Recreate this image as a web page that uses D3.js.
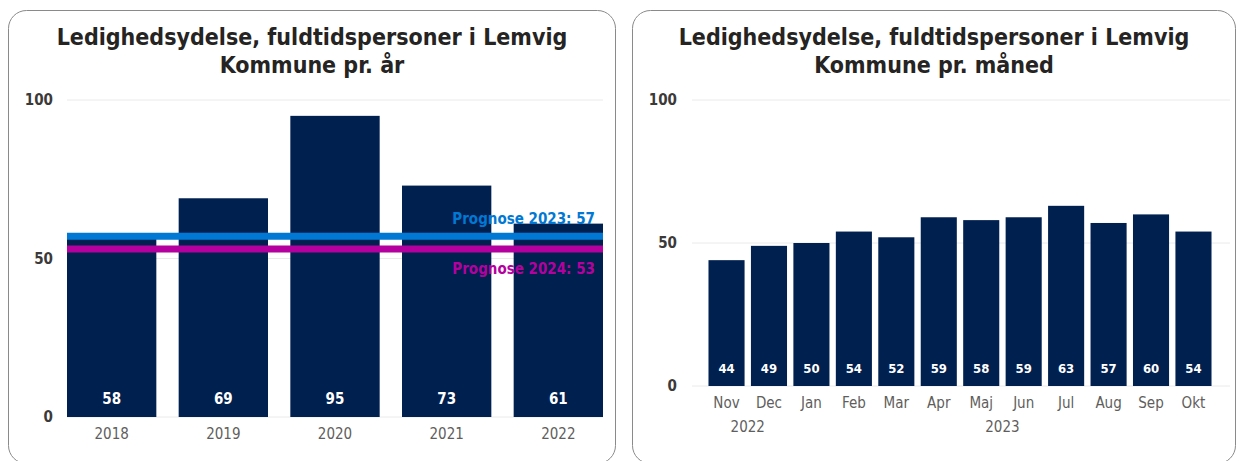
<!DOCTYPE html>
<html>
<head>
<meta charset="utf-8">
<script src="https://cdn.jsdelivr.net/npm/d3@7"></script>
<style>
  body { margin: 0; background: #fff; }
  text { font-family: "DejaVu Sans Condensed", "DejaVu Sans", sans-serif; }
</style>
</head>
<body>
<svg id="chart" width="1240" height="461"></svg>
<script>
// yearly chart
const years = ["2018", "2019", "2020", "2021", "2022"];
const yearValues = [58, 69, 95, 73, 61];
const prognoseNames = ["Prognose 2023", "Prognose 2024"];
const prognoseValues = [57, 53];

// monthly chart
const months = ["Nov", "Dec", "Jan", "Feb", "Mar", "Apr", "Maj", "Jun", "Jul", "Aug", "Sep", "Okt"];
const monthYears = ["2022", "2022", "2023", "2023", "2023", "2023", "2023", "2023", "2023", "2023", "2023", "2023"];
const monthValues = [44, 49, 50, 54, 52, 59, 58, 59, 63, 57, 60, 54];

const yTicks = [0, 50, 100];

const svg = d3.select("#chart");
const barColor = "#002050";

function panel(x, w, lines) {
  svg.append("rect")
    .attr("x", x).attr("y", 10.5)
    .attr("width", w).attr("height", 453)
    .attr("rx", 18)
    .attr("fill", "#fff")
    .attr("stroke", "#8a8a8a");
  const t = svg.append("text")
    .attr("x", x + w / 2)
    .attr("text-anchor", "middle")
    .attr("fill", "#252423")
    .style("font-size", "23px")
    .style("font-weight", "bold");
  lines.forEach((l, i) => {
    t.append("tspan").attr("x", x + w / 2).attr("y", 45 + i * 28).text(l);
  });
}

function yAxis(y, x0, x1, labelX) {
  svg.append("g").selectAll("line")
    .data(yTicks)
    .join("line")
    .attr("x1", x0).attr("x2", x1)
    .attr("y1", d => y(d)).attr("y2", d => y(d))
    .attr("stroke", "#eaeaea");
  svg.append("g").selectAll("text")
    .data(yTicks)
    .join("text")
    .attr("x", labelX)
    .attr("y", d => y(d))
    .attr("dy", "0.35em")
    .attr("text-anchor", "end")
    .attr("fill", "#3b3a39")
    .style("font-size", "15px")
    .style("font-weight", "bold")
    .text(d => d);
}

// ---- left chart ----
panel(8.5, 607, ["Ledighedsydelse, fuldtidspersoner i Lemvig", "Kommune pr. år"]);

const x1 = d3.scaleBand().domain(years).range([67, 603]).paddingInner(0.2).paddingOuter(0);
const y1 = d3.scaleLinear().domain([0, 100]).range([417, 100]);

yAxis(y1, 67, 603, 53);

svg.append("g").selectAll("rect")
  .data(years)
  .join("rect")
  .attr("x", d => x1(d))
  .attr("y", (d, i) => y1(yearValues[i]))
  .attr("width", x1.bandwidth())
  .attr("height", (d, i) => y1(0) - y1(yearValues[i]))
  .attr("fill", barColor);

svg.append("g").selectAll("text")
  .data(years)
  .join("text")
  .attr("x", d => x1(d) + x1.bandwidth() / 2)
  .attr("y", y1(0) - 13)
  .attr("text-anchor", "middle")
  .attr("fill", "#fff")
  .style("font-size", "15px")
  .style("font-weight", "bold")
  .text((d, i) => yearValues[i]);

svg.append("g").selectAll("text")
  .data(years)
  .join("text")
  .attr("x", d => x1(d) + x1.bandwidth() / 2)
  .attr("y", 439)
  .attr("text-anchor", "middle")
  .attr("fill", "#605e5c")
  .style("font-size", "15px")
  .text(d => d);

const progColors = ["#0078d4", "#b4009e"];
prognoseValues.forEach((v, i) => {
  svg.append("line")
    .attr("x1", 67).attr("x2", 603)
    .attr("y1", y1(v)).attr("y2", y1(v))
    .attr("stroke", progColors[i])
    .attr("stroke-width", 7);
  svg.append("text")
    .attr("x", 595)
    .attr("y", i === 0 ? y1(v) - 12 : y1(v) + 25)
    .attr("text-anchor", "end")
    .attr("fill", progColors[i])
    .style("font-size", "15px")
    .style("font-weight", "bold")
    .text(prognoseNames[i] + ": " + v);
});

// ---- right chart ----
panel(632.5, 603, ["Ledighedsydelse, fuldtidspersoner i Lemvig", "Kommune pr. måned"]);

const x2 = d3.scaleBand().domain(months).range([700, 1220]).paddingInner(0.15).paddingOuter(0.2);
const y2 = d3.scaleLinear().domain([0, 100]).range([386, 100]);

yAxis(y2, 692, 1230, 677);

svg.append("g").selectAll("rect")
  .data(months)
  .join("rect")
  .attr("x", d => x2(d))
  .attr("y", (d, i) => y2(monthValues[i]))
  .attr("width", x2.bandwidth())
  .attr("height", (d, i) => y2(0) - y2(monthValues[i]))
  .attr("fill", barColor);

svg.append("g").selectAll("text")
  .data(months)
  .join("text")
  .attr("x", d => x2(d) + x2.bandwidth() / 2)
  .attr("y", y2(0) - 13)
  .attr("text-anchor", "middle")
  .attr("fill", "#fff")
  .style("font-size", "13px")
  .style("font-weight", "bold")
  .text((d, i) => monthValues[i]);

svg.append("g").selectAll("text")
  .data(months)
  .join("text")
  .attr("x", d => x2(d) + x2.bandwidth() / 2)
  .attr("y", 408)
  .attr("text-anchor", "middle")
  .attr("fill", "#605e5c")
  .style("font-size", "15px")
  .text(d => d);

// year group labels under months
const groups = d3.groups(months.map((m, i) => ({ m, y: monthYears[i] })), d => d.y);
svg.append("g").selectAll("text")
  .data(groups)
  .join("text")
  .attr("x", g => {
    const a = x2(g[1][0].m), b = x2(g[1][g[1].length - 1].m) + x2.bandwidth();
    return (a + b) / 2;
  })
  .attr("y", 432)
  .attr("text-anchor", "middle")
  .attr("fill", "#605e5c")
  .style("font-size", "15px")
  .text(g => g[0]);
</script>
</body>
</html>
